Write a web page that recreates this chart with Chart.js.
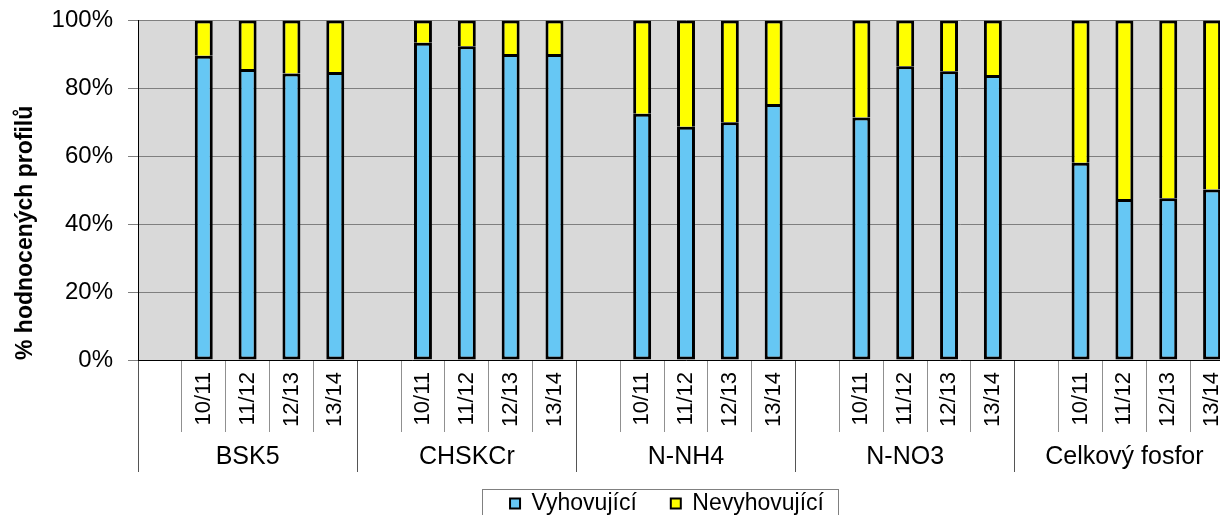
<!DOCTYPE html>
<html>
<head>
<meta charset="utf-8">
<script src="https://cdn.jsdelivr.net/npm/chart.js@4"></script>
<style>
  html, body { margin: 0; padding: 0; background: #fff; overflow: hidden; }
  #wrap { width: 1236px; height: 548px; margin-top: -9px; }
</style>
</head>
<body>
<div id="wrap"><canvas id="chart"></canvas></div>
<script>
// data
const groups = ["BSK5", "CHSKCr", "N-NH4", "N-NO3", "Celkový fosfor"];
const years = ["10/11", "11/12", "12/13", "13/14"];
const vyhovujici = [
  [89.6, 85.7, 84.4, 84.8],  // BSK5
  [93.4, 92.4, 90.1, 90.1],  // CHSKCr
  [72.5, 68.7, 70.0, 75.4],  // N-NH4
  [71.4, 86.5, 85.0, 83.9],  // N-NO3
  [58.1, 47.4, 47.6, 50.2]   // Celkový fosfor
];
const yTicks = [0, 20, 40, 60, 80, 100];

// each group gets an empty slot in front, then the four years
const slotLabels = [];
const okData = [];
const badData = [];
groups.forEach((g, gi) => {
  slotLabels.push("");
  okData.push(null);
  badData.push(null);
  years.forEach((y, yi) => {
    slotLabels.push(y);
    okData.push(vyhovujici[gi][yi]);
    badData.push(+(100 - vyhovujici[gi][yi]).toFixed(1));
  });
});

const FONT = "'Liberation Sans', Arial, sans-serif";

const plotBackground = {
  id: "plotBackground",
  beforeDraw(chart) {
    const { ctx, chartArea: a } = chart;
    ctx.save();
    ctx.fillStyle = "#d9d9d9";
    ctx.fillRect(a.left, a.top, a.right - a.left, a.bottom - a.top);
    ctx.restore();
  }
};

// move the legend to where the original has it and draw its frame
const legendFrame = {
  id: "legendFrame",
  afterLayout(chart) {
    const lg = chart.legend;
    lg.left += 50;
    lg.right += 50;
    lg.top -= 14;
    lg.bottom -= 14;
  },
  afterDraw(chart) {
    const boxes = chart.legend.legendHitBoxes;
    if (!boxes || !boxes.length) return;
    const first = boxes[0];
    const last = boxes[boxes.length - 1];
    const { ctx } = chart;
    ctx.save();
    ctx.strokeStyle = "#808080";
    ctx.lineWidth = 1;
    const l = Math.round(first.left - 28) + 0.5;
    const r = Math.round(last.left + last.width + 14) + 0.5;
    const t = Math.round(first.top - 3) + 0.5;
    ctx.strokeRect(l, t, r - l, 40);
    ctx.restore();
  }
};

new Chart(document.getElementById("chart"), {
  type: "bar",
  data: {
    labels: slotLabels,
    datasets: [
      {
        label: "Vyhovující",
        data: okData,
        backgroundColor: "#66c7f4",
        borderColor: "#000",
        borderWidth: 3,
        borderSkipped: false
      },
      {
        label: "Nevyhovující",
        data: badData,
        backgroundColor: "#ffff00",
        borderColor: "#000",
        borderWidth: 3
      }
    ]
  },
  options: {
    responsive: true,
    maintainAspectRatio: false,
    animation: false,
    devicePixelRatio: 1,
    categoryPercentage: 1,
    barPercentage: 0.41,
    layout: { padding: { top: 13, right: 2, left: 0, bottom: 0 } },
    plugins: {
      tooltip: { enabled: false },
      legend: {
        position: "bottom",
        labels: {
          color: "#000",
          font: { family: FONT, size: 23 },
          boxWidth: 10,
          boxHeight: 10,
          padding: 34,
          generateLabels: (chart) =>
            Chart.defaults.plugins.legend.labels.generateLabels(chart).map((it) => {
              it.lineWidth = 2;
              return it;
            })
        }
      }
    },
    scales: {
      x: {
        stacked: true,
        offset: true,
        grid: {
          offset: true,
          drawOnChartArea: false,
          tickLength: 72,
          color: (c) => (c.index % 5 === 0 ? "#555" : "#909090")
        },
        border: { display: true, color: "#000", width: 1 },
        ticks: {
          autoSkip: false,
          minRotation: 90,
          maxRotation: 90,
          padding: -60,
          color: "#000",
          font: { family: FONT, size: 22 }
        },
        afterFit: (s) => { s.height = 72; }
      },
      x2: {
        type: "category",
        labels: groups,
        position: "bottom",
        offset: true,
        grid: {
          offset: true,
          drawOnChartArea: false,
          tickLength: 40,
          color: "#555"
        },
        border: { display: false },
        ticks: {
          padding: -30,
          color: "#000",
          font: { family: FONT, size: 25 }
        },
        afterFit: (s) => { s.height = 40; }
      },
      y: {
        stacked: true,
        min: 0,
        max: 100,
        afterBuildTicks: (s) => { s.ticks = yTicks.map((v) => ({ value: v })); },
        grid: { color: "#7f7f7f", lineWidth: 1, tickLength: 10 },
        border: { display: true, color: "#000", width: 1 },
        ticks: {
          padding: 15,
          color: "#000",
          font: { family: FONT, size: 24 },
          callback: (v) => v + "%"
        },
        title: {
          display: true,
          text: "% hodnocených profilů",
          align: "start",
          color: "#000",
          font: { family: FONT, size: 23, weight: "bold" },
          padding: { top: 12, bottom: 0 }
        },
        afterFit: (s) => { s.width = 138; }
      }
    }
  },
  plugins: [plotBackground, legendFrame]
});
</script>
</body>
</html>
